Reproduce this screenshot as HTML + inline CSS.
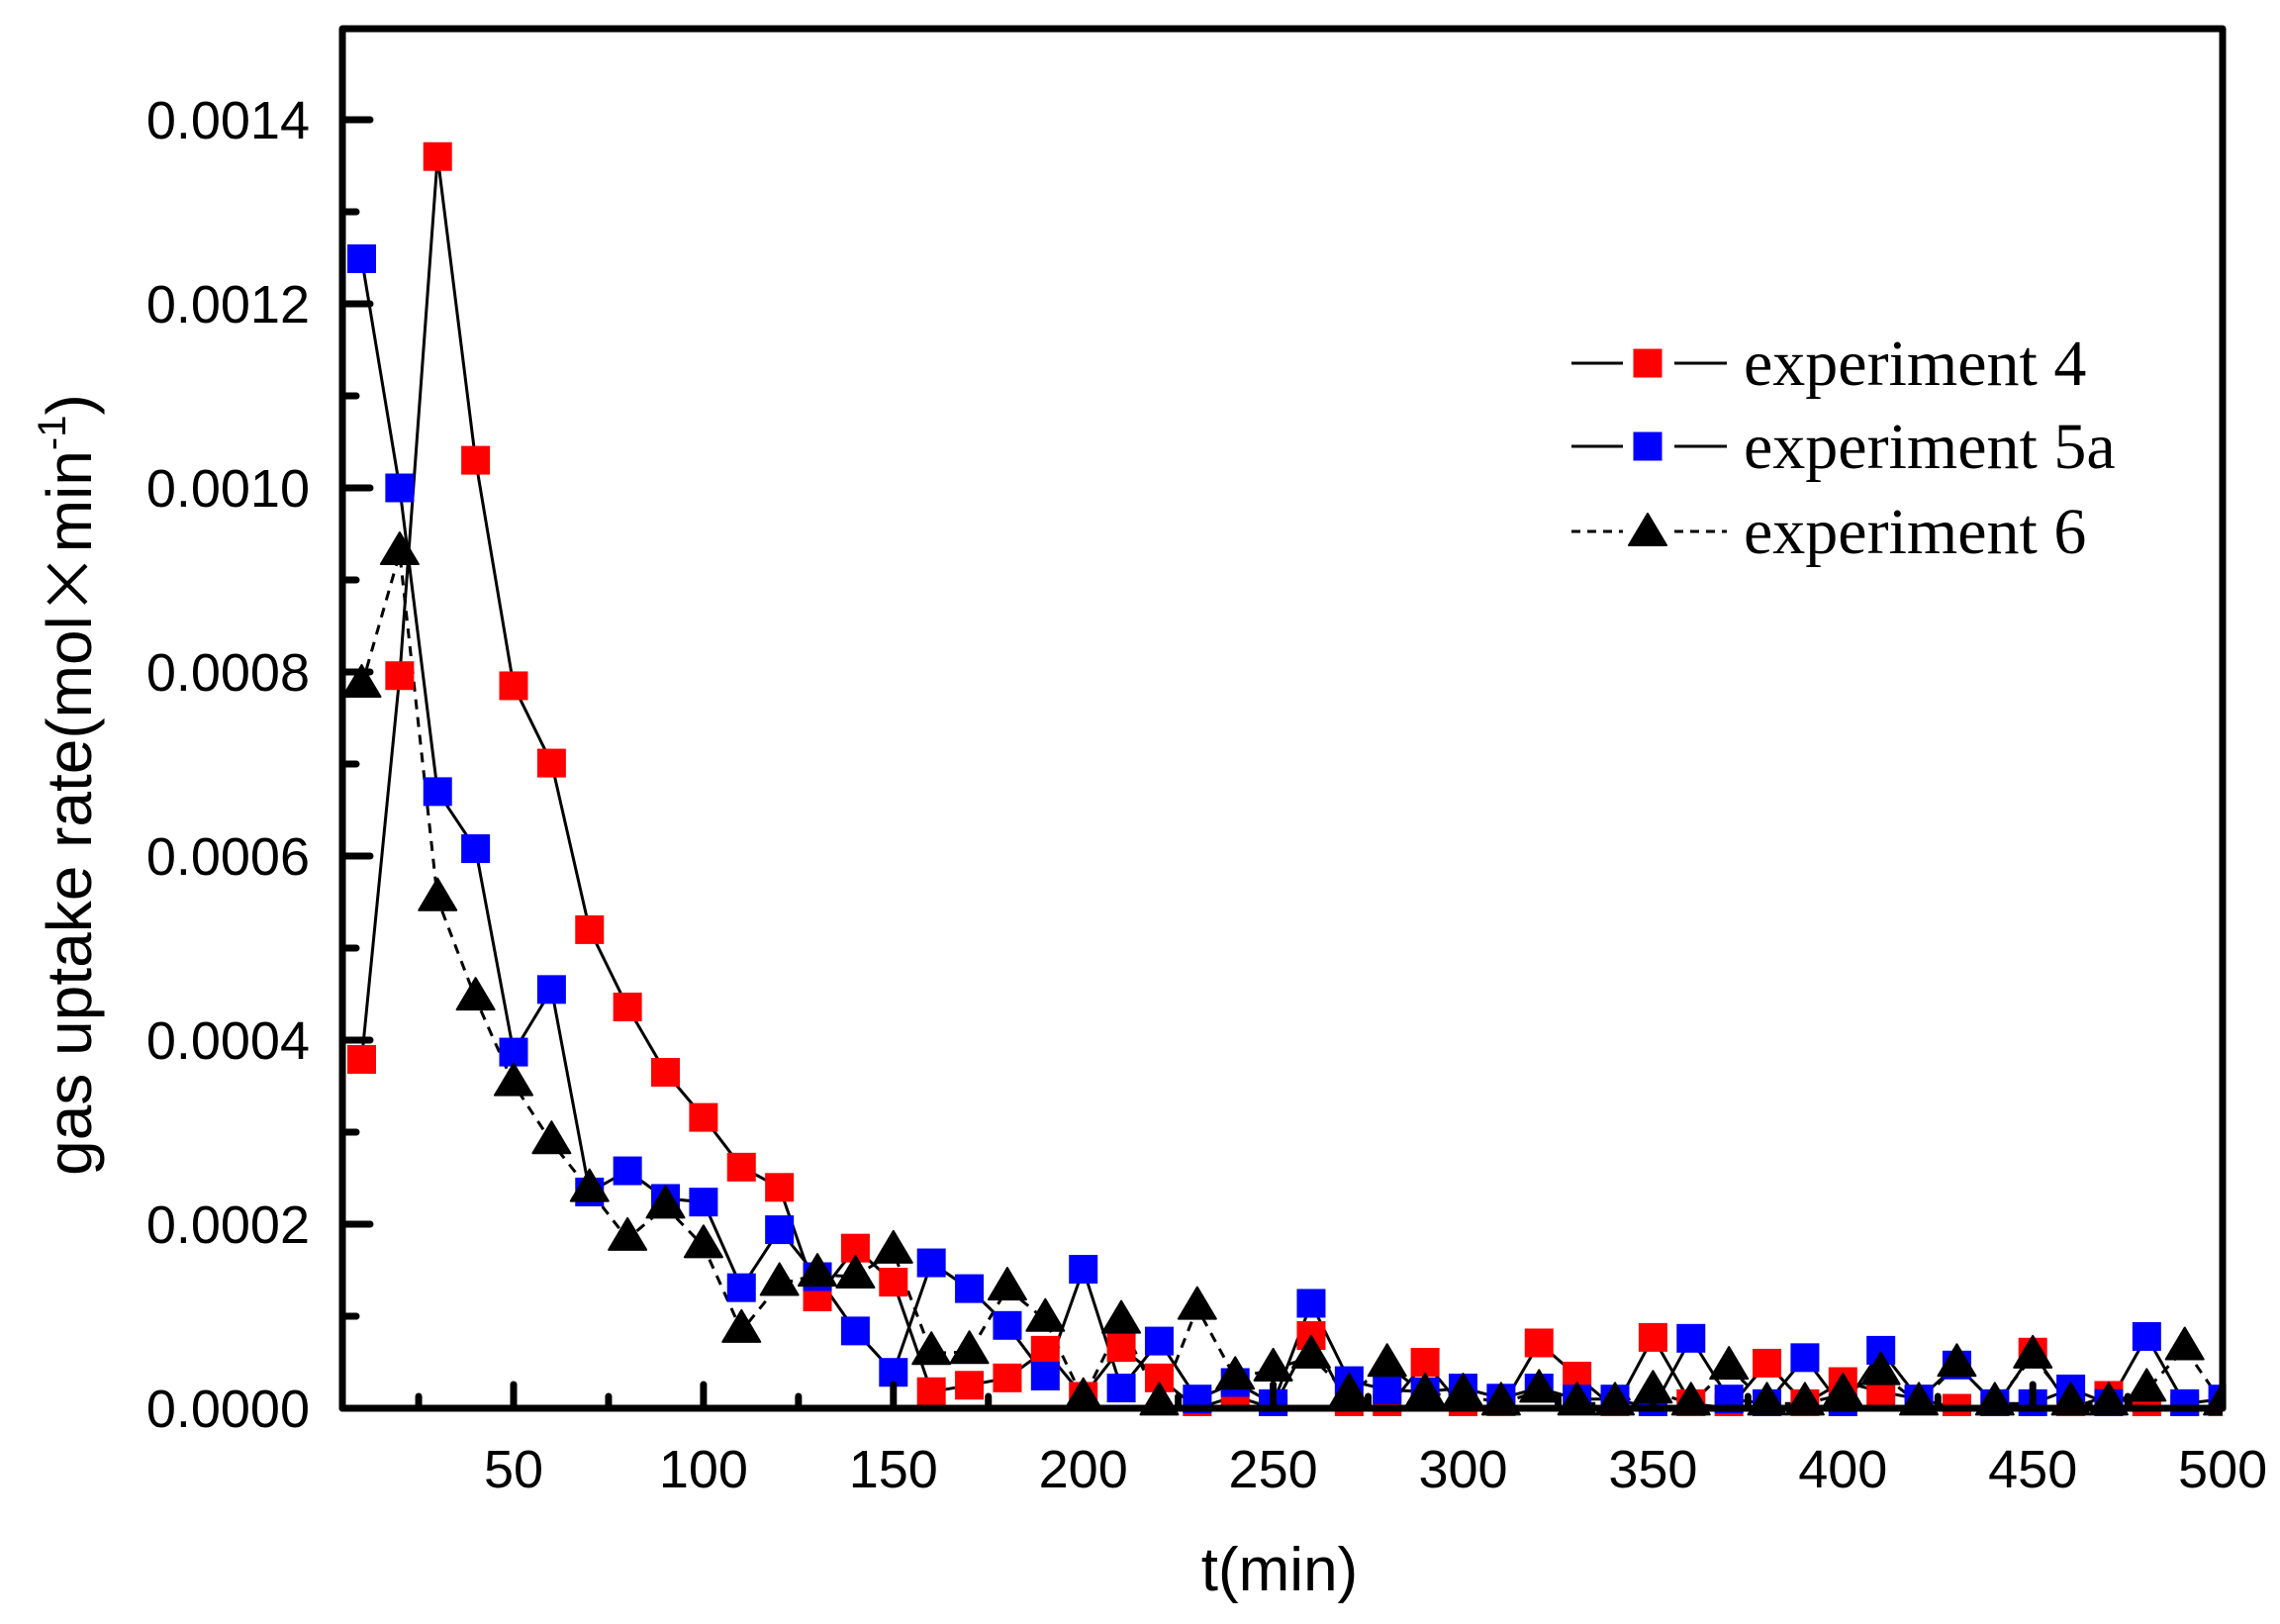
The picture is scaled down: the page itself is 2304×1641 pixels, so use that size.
<!DOCTYPE html>
<html><head><meta charset="utf-8"><style>
html,body{margin:0;padding:0;background:#fff;}
svg{display:block;}
</style></head><body>
<svg id="s" width="2304" height="1641" viewBox="0 0 2304 1641" xmlns="http://www.w3.org/2000/svg">
<defs><clipPath id="cp"><rect x="346" y="29" width="1900" height="1402"/></clipPath></defs>
<g id="plot" clip-path="url(#cp)"></g>
<g id="axes" stroke="#000" stroke-width="7" fill="none" stroke-linecap="round"></g>
<g font-family="Liberation Sans, Arial, sans-serif" font-size="54" fill="#000">
<g id="ylab" text-anchor="end"></g>
<g id="xlab" text-anchor="middle"></g>
<text x="1293" y="1607" text-anchor="middle" font-size="62">t(min)</text>
<text transform="translate(92,793) rotate(-90)" text-anchor="middle" font-size="64">gas uptake rate(mol<tspan font-family="Noto Sans CJK SC, sans-serif">×</tspan>min<tspan font-size="40" dy="-26">-1</tspan><tspan dy="26">)</tspan></text>
</g>
<g id="legend"></g>
<g font-family="Liberation Serif, Times New Roman, serif" font-size="66" fill="#000">
<text x="1762" y="389">experiment 4</text>
<text x="1762" y="473">experiment 5a</text>
<text x="1762" y="559">experiment 6</text>
</g>
</svg>
<script>
const NS="http://www.w3.org/2000/svg";
function X(t){return 519+(t-50)*3.838;}
function Y(v){return 1423-93*v;}
function el(p,n,a){const e=document.createElementNS(NS,n);for(const k in a)e.setAttribute(k,a[k]);p.appendChild(e);return e;}
const red=[3.79,7.96,13.6,10.3,7.85,7.01,5.2,4.36,3.65,3.16,2.62,2.4,1.21,1.74,1.37,0.18,0.25,0.33,0.63,0.13,0.66,0.33,0,0.13,0,0.79,0,0,0.5,0,0,0.71,0.35,0,0.77,0.05,0,0.49,0.05,0.29,0.18,0.1,0,0,0.61,0,0.14,0,0,0];
const blue=[12.49,10.0,6.7,6.08,3.87,4.55,2.35,2.58,2.28,2.24,1.31,1.94,1.43,0.84,0.39,1.58,1.3,0.9,0.35,1.51,0.22,0.73,0.1,0.28,0.05,1.14,0.3,0.2,0.18,0.22,0.11,0.22,0.1,0.1,0,0.76,0.1,0.05,0.55,0,0.63,0.1,0.47,0.05,0.05,0.21,0.05,0.78,0.05,0.1];
const blk=[7.85,9.29,5.53,4.45,3.52,2.89,2.37,1.84,2.19,1.76,0.84,1.35,1.45,1.43,1.7,0.6,0.61,1.3,0.96,0.1,0.94,0.05,1.09,0.33,0.42,0.56,0.15,0.47,0.15,0.15,0.05,0.19,0.05,0.05,0.18,0.05,0.44,0.05,0.05,0.15,0.38,0.05,0.47,0.05,0.56,0.05,0.05,0.2,0.65,0.05];
const plot=document.getElementById('plot');
function pts(d){return d.map((v,i)=>X(10*(i+1)).toFixed(1)+","+Y(v).toFixed(1)).join(" ");}
el(plot,'polyline',{points:pts(red),fill:'none',stroke:'#000','stroke-width':3});
el(plot,'polyline',{points:pts(blue),fill:'none',stroke:'#000','stroke-width':3});
el(plot,'polyline',{points:pts(blk),fill:'none',stroke:'#000','stroke-width':3,'stroke-dasharray':'10,8'});
function sq(p,x,y,c){el(p,'rect',{x:x-14.5,y:y-14.5,width:29,height:29,fill:c});}
function tri(p,x,y){el(p,'polygon',{points:`${x},${y-21} ${x-19},${y+11} ${x+19},${y+11}`,fill:'#000','stroke':'#000','stroke-width':2,'stroke-linejoin':'round'});}
red.forEach((v,i)=>sq(plot,X(10*(i+1)),Y(v),'#ff0000'));
blue.forEach((v,i)=>sq(plot,X(10*(i+1)),Y(v),'#0000ff'));
blk.forEach((v,i)=>tri(plot,X(10*(i+1)),Y(v)));
const ax=document.getElementById('axes');
el(ax,'rect',{x:346,y:29,width:1900,height:1394,'stroke-linejoin':'round'});
for(let k=0;k<=14;k++){const y=Y(k);const L=(k%2==0)?28:14;el(ax,'line',{x1:346,y1:y,x2:346+L,y2:y});}
for(let t=25;t<=500;t+=25){const x=X(t);const L=(t%50==0)?24:12;el(ax,'line',{x1:x,y1:1423,x2:x,y2:1423-L});}
const yl=document.getElementById('ylab');
for(let k=0;k<=14;k+=2){const t=el(yl,'text',{x:313,y:Y(k)+19});t.textContent=(k/10000).toFixed(4);}
const xl=document.getElementById('xlab');
for(let t=50;t<=500;t+=50){const e=el(xl,'text',{x:X(t),y:1503});e.textContent=t;}
const lg=document.getElementById('legend');
[[367,'#ff0000',0],[451,'#0000ff',0],[537,'#000',1]].forEach(([y,c,d])=>{
 const a={stroke:'#000','stroke-width':3};if(d)a['stroke-dasharray']='9,7';
 el(lg,'line',Object.assign({x1:1588,y1:y,x2:1640,y2:y},a));
 el(lg,'line',Object.assign({x1:1692,y1:y,x2:1745,y2:y},a));
 if(d)tri(lg,1665,y+3);else sq(lg,1665,y,c);
});
</script>
</body></html>
